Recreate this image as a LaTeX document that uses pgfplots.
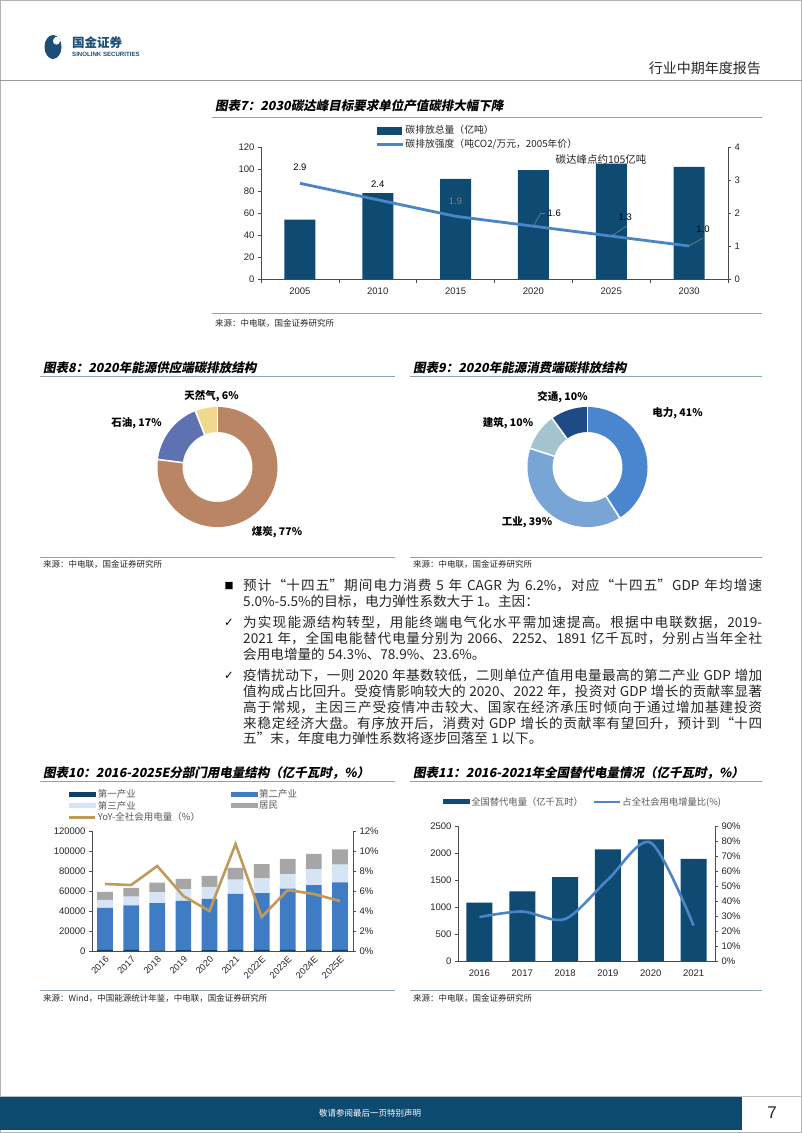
\documentclass[border=0pt]{standalone}
\usepackage{fontspec}
\setmainfont{Liberation Sans}
\newfontfamily\cjk{Noto Sans CJK SC}
\newfontfamily\cjksl{Noto Sans CJK SC}[FakeSlant=0.2]
\newfontfamily\dejavu{DejaVu Sans}
\usepackage{pgfplots}
\pgfplotsset{compat=1.18}
\usepackage{pgfplotstable}
\XeTeXlinebreaklocale "zh"
\XeTeXlinebreakskip=0pt plus 1pt minus 0.3pt

\definecolor{navy}{HTML}{0E4A72}
\definecolor{lineblue}{HTML}{4A86C6}
\definecolor{pone}{HTML}{0E3F66}
\definecolor{ptwo}{HTML}{3F7CC4}
\definecolor{pthree}{HTML}{D5E5F5}
\definecolor{pres}{HTML}{A6A6A6}
\definecolor{yoy}{HTML}{C09A5B}
\definecolor{coal}{HTML}{BA8564}
\definecolor{oil}{HTML}{5E72B2}
\definecolor{gas}{HTML}{F0D98C}
\definecolor{elec}{HTML}{4A86D0}
\definecolor{indu}{HTML}{78A4D6}
\definecolor{bldg}{HTML}{A3C4CE}
\definecolor{trans}{HTML}{1F4B85}
\definecolor{rule}{HTML}{8FA2B0}
\definecolor{txt}{HTML}{262626}
\definecolor{logoblue}{HTML}{1B4E78}
\definecolor{band}{HTML}{0C4A70}

\pgfplotstableread{
x total int
0 54 2.9
1 78 2.4
2 91 1.9
3 99 1.6
4 105 1.3
5 102 1.0
}\carbon

\pgfplotstableread{
x p1 p2 p3 res yoy
0 1075 42108 7961 8054 6.7
1 1155 44413 8814 8695 6.6
2 728 47235 10801 9685 8.5
3 780 49362 11863 10250 5.5
4 859 51215 12087 10949 4.0
5 1023 56131 14231 11743 10.7
6 1100 56900 14590 14250 3.4
7 1150 61160 14590 15250 6.1
8 1200 64760 15910 15250 5.7
9 1250 67360 17900 15250 5.0
}\sector

\pgfplotstableread{
x sub share
0 1081 29.3
1 1288 33.0
2 1553 28.0
3 2066 54.3
4 2252 78.9
5 1891 23.6
}\subst

\newcommand{\titlefont}{\cjksl\bfseries\fontsize{12.5}{15}\selectfont}
\newcommand{\srcfont}{\cjk\fontsize{8.5}{10}\selectfont}
\newcommand{\bodyfont}{\cjk\fontsize{13.6}{15.7}\selectfont}
\newcommand{\pielabel}{\cjk\bfseries\fontsize{10.5}{12}\selectfont}

\newcommand{\donutseg}[3]{%
  \draw[#3, line width=25pt] (axis cs:0,0) ++({90-3.6*#1}:47.5pt) arc[start angle={90-3.6*#1}, end angle={90-3.6*#2}, radius=47.5pt];}
\newcommand{\donutgap}[1]{%
  \draw[white, line width=1.6pt] (axis cs:0,0) ++({90-3.6*#1}:34pt) -- ++({90-3.6*#1}:27pt);}

\pgfplotsset{
  every axis/.append style={
    scale only axis, anchor=south west, clip=false,
    tick label style={font=\fontsize{9.5}{11}\selectfont, text=txt},
    /pgf/number format/assume math mode=true,
    /pgf/number format/fixed,
    /pgf/number format/1000 sep={},
    scaled ticks=false,
    axis line style={black!70, line width=0.6pt},
    tick style={black!70, line width=0.6pt},
    tick align=outside, major tick length=3pt,
  },
  barlegend/.style={legend image code/.code={\fill[##1] (0pt,-4pt) rectangle (25pt,4pt);}},
  thinbar/.style={legend image code/.code={\fill[##1] (0pt,-2.5pt) rectangle (27pt,2.5pt);}},
  linelegend/.style={legend image code/.code={\draw[##1] (0pt,0pt) -- (26pt,0pt);}},
}

\begin{document}
\begin{tikzpicture}[x=1pt,y=1pt]
\path[use as bounding box] (0,0) rectangle (802,-1133);
\fill[white] (0,0) rectangle (802,-1133);
\draw[black!30, line width=0.8pt] (0.4,-0.4) rectangle (801.6,-1132.6);

% ---------- header ----------
\fill[logoblue] (53,-47) ellipse [x radius=8.5, y radius=12];
\fill[white] (56.5,-41) circle (3.6);
\fill[white] (54.5,-37) rectangle (59,-42);
\node[anchor=west, inner sep=0, font=\cjk\bfseries\fontsize{12.5}{14}\selectfont, text=logoblue] at (72,-43) {国金证券};
\node[anchor=west, inner sep=0, font=\bfseries\fontsize{6.1}{7}\selectfont, text=logoblue] at (72,-54.5) {SINOLINK SECURITIES};
\node[anchor=east, inner sep=0, font=\cjk\fontsize{14}{16}\selectfont, text=txt] at (761,-68) {行业中期年度报告};
\draw[black!40, line width=1.4pt] (0,-80.5) -- (802,-80.5);

% ---------- chart 7 ----------
\node[anchor=base west, inner sep=0, font=\titlefont, text=black] at (215,-110) {图表7：2030碳达峰目标要求单位产值碳排大幅下降};
\draw[rule, line width=0.8pt] (212,-117) -- (762,-117);

\begin{axis}[at={(261pt,-279pt)}, width=467pt, height=132pt,
  xmin=-0.5, xmax=5.5, ymin=0, ymax=120, ytick={0,20,...,120},
  axis y line*=left, axis x line*=bottom,
  xtick={0,...,5}, xticklabels={2005,2010,2015,2020,2025,2030},
  major x tick style={draw=none}, minor xtick={-0.5,0.5,...,5.5}, minor tick length=4pt,
  xticklabel style={yshift=-2pt}]
\addplot[ybar, bar width=31pt, fill=navy, draw=none] table[x=x, y=total]{\carbon};
\end{axis}

\begin{axis}[at={(261pt,-279pt)}, width=467pt, height=132pt,
  xmin=-0.5, xmax=5.5, ymin=0, ymax=4, ytick={0,...,4},
  axis y line*=right, axis x line=none,
  legend cell align=left,
  legend style={at={(0.244,1.175)}, anchor=north west, draw=none, fill=none,
    font=\cjk\fontsize{9.8}{11.5}\selectfont, text=txt, row sep=1pt, inner sep=0pt,
    nodes={inner sep=1.5pt}}]
\addlegendimage{barlegend, fill=navy, draw=none}
\addlegendentry{碳排放总量（亿吨）}
\addplot[lineblue, line width=2.8pt, linelegend] table[x=x, y=int]{\carbon};
\addlegendentry{碳排放强度（吨CO2/万元，2005年价）}
\node[anchor=base, inner sep=0, font=\fontsize{9.5}{11}\selectfont] at (axis cs:0,2.9) [yshift=12.5pt] {2.9};
\node[anchor=base, inner sep=0, font=\fontsize{9.5}{11}\selectfont] at (axis cs:1,2.4) [yshift=12.5pt] {2.4};
\node[anchor=base, inner sep=0, font=\fontsize{9.5}{11}\selectfont, text=black!50] at (axis cs:2,1.9) [yshift=12pt] {1.9};
\draw[black!45, line width=0.5pt] (axis cs:3,1.6) -- ++(7pt,12.5pt) -- ++(5pt,0pt);
\node[anchor=west, inner sep=0, font=\fontsize{9.5}{11}\selectfont] at (axis cs:3,1.6) [xshift=14pt, yshift=12.5pt] {1.6};
\draw[black!45, line width=0.5pt] (axis cs:4,1.3) -- ++(16pt,10.5pt);
\node[inner sep=0, font=\fontsize{9.5}{11}\selectfont] at (axis cs:4,1.3) [xshift=14pt, yshift=19pt] {1.3};
\draw[black!45, line width=0.5pt] (axis cs:5,1.0) -- ++(14pt,8pt);
\node[inner sep=0, font=\fontsize{9.5}{11}\selectfont] at (axis cs:5,1.0) [xshift=14pt, yshift=17pt] {1.0};
\end{axis}
\node[inner sep=0, font=\cjk\fontsize{10.5}{12}\selectfont, text=txt] at (601,-160) {碳达峰点约105亿吨};

\draw[rule, line width=0.8pt] (212,-313) -- (762,-313);
\node[anchor=base west, inner sep=0, font=\srcfont, text=txt] at (215,-326) {来源：中电联，国金证券研究所};

% ---------- chart 8 ----------
\node[anchor=base west, inner sep=0, font=\titlefont, text=black] at (43,-372) {图表8：2020年能源供应端碳排放结构};
\draw[rule, line width=0.8pt] (40,-376.5) -- (395,-376.5);
\begin{axis}[at={(217.5pt,-467pt)}, anchor=center, width=120pt, height=120pt,
  hide axis, xmin=-1, xmax=1, ymin=-1, ymax=1]
\donutseg{0}{77}{coal}
\donutseg{77}{94}{oil}
\donutseg{94}{100}{gas}
\donutgap{0}\donutgap{77}\donutgap{94}
\end{axis}
\node[inner sep=0, font=\pielabel] at (211.5,-396) {天然气, 6\%};
\node[inner sep=0, font=\pielabel] at (136.5,-423) {石油, 17\%};
\node[inner sep=0, font=\pielabel] at (277,-532) {煤炭, 77\%};
\draw[rule, line width=0.8pt] (40,-557) -- (395,-557);
\node[anchor=base west, inner sep=0, font=\srcfont, text=txt] at (43,-567) {来源：中电联，国金证券研究所};

% ---------- chart 9 ----------
\node[anchor=base west, inner sep=0, font=\titlefont, text=black] at (413,-372) {图表9：2020年能源消费端碳排放结构};
\draw[rule, line width=0.8pt] (410,-376.5) -- (762,-376.5);
\begin{axis}[at={(587.5pt,-467pt)}, anchor=center, width=120pt, height=120pt,
  hide axis, xmin=-1, xmax=1, ymin=-1, ymax=1]
\donutseg{0}{41}{elec}
\donutseg{41}{80}{indu}
\donutseg{80}{90}{bldg}
\donutseg{90}{100}{trans}
\donutgap{0}\donutgap{41}\donutgap{80}\donutgap{90}
\end{axis}
\node[inner sep=0, font=\pielabel] at (562.5,-397) {交通, 10\%};
\node[inner sep=0, font=\pielabel] at (677.5,-413) {电力, 41\%};
\node[inner sep=0, font=\pielabel] at (508,-423) {建筑, 10\%};
\node[inner sep=0, font=\pielabel] at (527,-522.5) {工业, 39\%};
\draw[rule, line width=0.8pt] (410,-557) -- (762,-557);
\node[anchor=base west, inner sep=0, font=\srcfont, text=txt] at (413,-567) {来源：中电联，国金证券研究所};

% ---------- body text ----------
\node[inner sep=0, font=\dejavu\fontsize{9.5}{10}\selectfont, text=black] at (229,-586) {■};
\node[inner sep=0, font=\dejavu\fontsize{11.5}{12}\selectfont, text=black] at (229,-623) {✓};
\node[inner sep=0, font=\dejavu\fontsize{11.5}{12}\selectfont, text=black] at (229,-676) {✓};
\node[anchor=north west, inner sep=0, text width=519pt, align=justify, font=\bodyfont, text=txt] at (243,-579.2)
{\noindent 预计“十四五”期间电力消费 5 年 CAGR 为 6.2\%，对应“十四五”GDP 年均增速\linebreak 5.0\%-5.5\%的目标，电力弹性系数大于 1。主因：};
\node[anchor=north west, inner sep=0, text width=519pt, align=justify, font=\bodyfont, text=txt] at (243,-616.2)
{\noindent 为实现能源结构转型，用能终端电气化水平需加速提高。根据中电联数据，2019-\linebreak 2021 年，全国电能替代电量分别为 2066、2252、1891 亿千瓦时，分别占当年全社\linebreak 会用电增量的 54.3\%、78.9\%、23.6\%。};
\node[anchor=north west, inner sep=0, text width=519pt, align=justify, font=\bodyfont, text=txt] at (243,-669.2)
{\noindent 疫情扰动下，一则 2020 年基数较低，二则单位产值用电量最高的第二产业 GDP 增加\linebreak 值构成占比回升。受疫情影响较大的 2020、2022 年，投资对 GDP 增长的贡献率显著\linebreak 高于常规，主因三产受疫情冲击较大、国家在经济承压时倾向于通过增加基建投资\linebreak 来稳定经济大盘。有序放开后，消费对 GDP 增长的贡献率有望回升，预计到“十四\linebreak 五”末，年度电力弹性系数将逐步回落至 1 以下。};

% ---------- chart 10 ----------
\node[anchor=base west, inner sep=0, font=\titlefont, text=black] at (43,-777) {图表10：2016-2025E分部门用电量结构（亿千瓦时，\%）};
\draw[rule, line width=0.8pt] (40,-781.5) -- (395,-781.5);

\begin{axis}[at={(92pt,-951pt)}, width=261pt, height=120pt,
  xmin=-0.5, xmax=9.5, ymin=0, ymax=120000, ytick={0,20000,...,120000},
  axis y line*=left, axis x line*=bottom,
  xtick={0,...,9}, xticklabels={2016,2017,2018,2019,2020,2021,2022E,2023E,2024E,2025E},
  xticklabel style={rotate=45, anchor=north east, inner sep=1pt, font=\fontsize{9.2}{10}\selectfont},
  major x tick style={draw=none},
  ybar stacked, bar width=15.7pt]
\addplot[fill=pone, draw=none] table[x=x, y=p1]{\sector};
\addplot[fill=ptwo, draw=none] table[x=x, y=p2]{\sector};
\addplot[fill=pthree, draw=none] table[x=x, y=p3]{\sector};
\addplot[fill=pres, draw=none] table[x=x, y=res]{\sector};
\end{axis}

\begin{axis}[at={(92pt,-951pt)}, width=261pt, height=120pt,
  xmin=-0.5, xmax=9.5, ymin=0, ymax=12, ytick={0,2,...,12},
  yticklabel={\pgfmathprintnumber{\tick}\%},
  axis y line*=right, axis x line=none,
  legend cell align=left, legend columns=2,
  legend style={at={(-0.092,1.355)}, anchor=north west, draw=none, fill=none,
    font=\cjk\fontsize{9.5}{10.5}\selectfont, text=black!65, row sep=0pt, inner sep=0pt,
    nodes={inner sep=1pt},
    /tikz/every even column/.append style={column sep=30pt}}]
\addlegendimage{thinbar, fill=pone, draw=none}
\addlegendentry{第一产业}
\addlegendimage{thinbar, fill=ptwo, draw=none}
\addlegendentry{第二产业}
\addlegendimage{thinbar, fill=pthree, draw=none}
\addlegendentry{第三产业}
\addlegendimage{thinbar, fill=pres, draw=none}
\addlegendentry{居民}
\addplot[yoy, line width=2.6pt, linelegend] table[x=x, y=yoy]{\sector};
\addlegendentry{YoY-全社会用电量（\%）}
\end{axis}
\draw[rule, line width=0.8pt] (40,-990) -- (395,-990);
\node[anchor=base west, inner sep=0, font=\srcfont, text=txt] at (43,-1001) {来源：Wind，中国能源统计年鉴，中电联，国金证券研究所};

% ---------- chart 11 ----------
\node[anchor=base west, inner sep=0, font=\titlefont, text=black] at (413,-777) {图表11：2016-2021年全国替代电量情况（亿千瓦时，\%）};
\draw[rule, line width=0.8pt] (410,-781.5) -- (762,-781.5);

\begin{axis}[at={(458pt,-961pt)}, width=257pt, height=135pt,
  xmin=-0.5, xmax=5.5, ymin=0, ymax=2500, ytick={0,500,...,2500},
  axis y line*=left, axis x line*=bottom,
  xtick={0,...,5}, xticklabels={2016,2017,2018,2019,2020,2021},
  major x tick style={draw=none}, xticklabel style={yshift=-2pt}]
\addplot[ybar, bar width=26pt, fill=navy, draw=none] table[x=x, y=sub]{\subst};
\end{axis}

\begin{axis}[at={(458pt,-961pt)}, width=257pt, height=135pt,
  xmin=-0.5, xmax=5.5, ymin=0, ymax=90, ytick={0,10,...,90},
  yticklabel={\pgfmathprintnumber{\tick}\%},
  axis y line*=right, axis x line=none,
  legend cell align=left, legend columns=2,
  legend style={at={(-0.058,1.222)}, anchor=north west, draw=none, fill=none,
    font=\cjk\fontsize{9.3}{10.5}\selectfont, text=black!65, inner sep=0pt,
    nodes={inner sep=1pt},
    /tikz/every even column/.append style={column sep=9pt}}]
\addlegendimage{thinbar, fill=navy, draw=none}
\addlegendentry{全国替代电量（亿千瓦时）}
\addplot[lineblue, line width=2.6pt, smooth, linelegend] table[x=x, y=share]{\subst};
\addlegendentry{占全社会用电增量比(\%)}
\end{axis}
\draw[rule, line width=0.8pt] (410,-990) -- (762,-990);
\node[anchor=base west, inner sep=0, font=\srcfont, text=txt] at (413,-1001) {来源：中电联，国金证券研究所};

% ---------- footer ----------
\draw[black!25, line width=0.8pt] (0,-1096) -- (802,-1096);
\fill[band] (0,-1097) rectangle (742,-1130);
\node[inner sep=0, font=\cjk\fontsize{8.5}{10}\selectfont, text=white] at (370,-1113) {敬请参阅最后一页特别声明};
\node[inner sep=0, font=\fontsize{17}{19}\selectfont, text=txt] at (772,-1113) {7};
\end{tikzpicture}
\end{document}
